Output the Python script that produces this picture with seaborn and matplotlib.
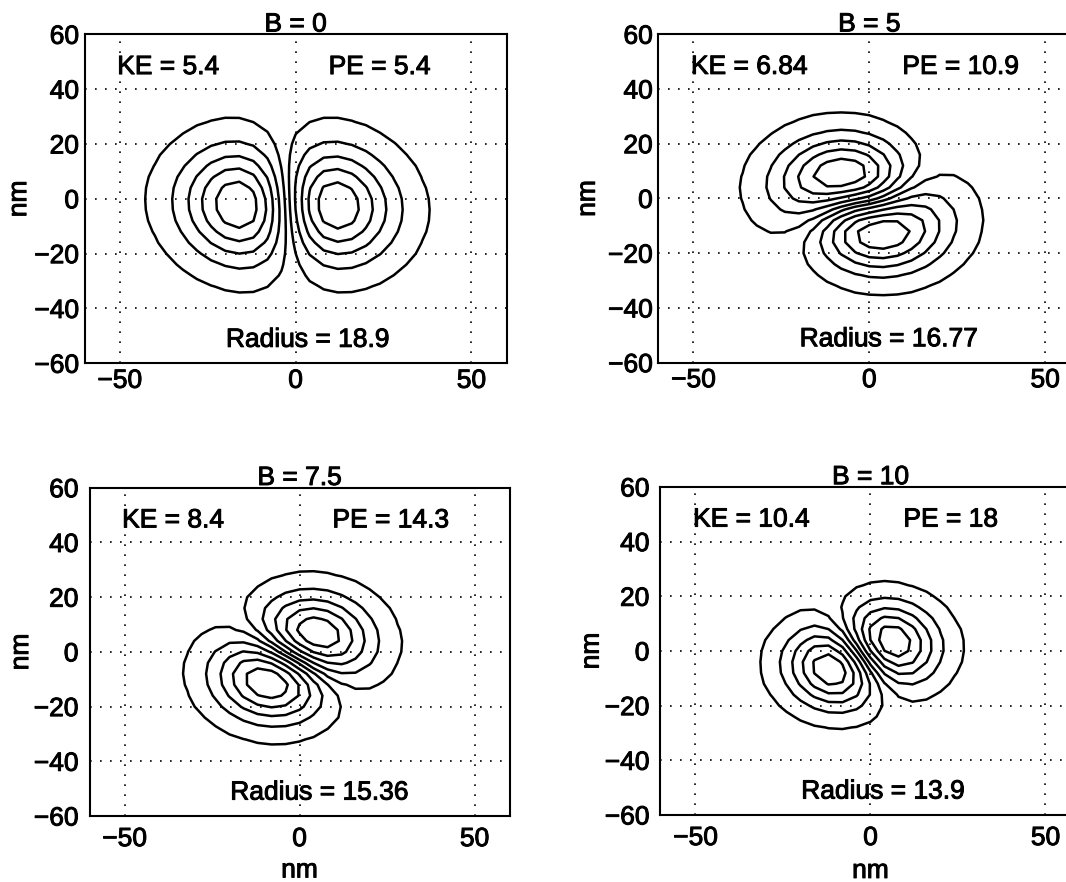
import numpy as np
import matplotlib
matplotlib.use("Agg")
import matplotlib.pyplot as plt
import matplotlib.patheffects as pe
import seaborn as sns

sns.set_theme(style="white")
plt.rcParams['font.family'] = ['Liberation Sans', 'DejaVu Sans']
for key in ('text.color', 'axes.labelcolor', 'xtick.color', 'ytick.color', 'axes.edgecolor'):
    plt.rcParams[key] = 'black'

# ---- chart data ----
titles = ["B = 0", "B = 5", "B = 7.5", "B = 10"]
ke_vals = ["5.4", "6.84", "8.4", "10.4"]
pe_vals = ["5.4", "10.9", "14.3", "18"]
radius_vals = ["18.9", "16.77", "15.36", "13.9"]
x_ticks = [-50, 0, 50]
y_ticks = [-60, -40, -20, 0, 20, 40, 60]
contour_fracs = [0.08, 0.26, 0.45, 0.64, 0.83]

# p-like wavefunction parameters per panel (estimated from the contours)
centers_x = [-2.33, -2.16, -1.99, -2.45]
centers_y = [-2.27, -1.95, -2.16, -1.59]
node_angle = [92.3, 10.4, -35.6, -60.8]   # deg, nodal line at the centre
twist = [0.029, 1.063, -0.255, -0.138]    # deg per nm
width_a = [13.68, 12.69, 11.10, 10.48]
width_b = [14.49, 11.84, 11.63, 10.02]
env_angle = [43.8, -32.8, 138.3, 49.9]


def wavefunction(X, Y, k):
    x = X - centers_x[k]
    y = Y - centers_y[k]
    r = np.hypot(x, y)
    th = np.arctan2(y, x)
    thn = np.deg2rad(node_angle[k] + twist[k] * r)
    al = np.deg2rad(env_angle[k])
    pu = x * np.cos(al) + y * np.sin(al)
    pv = -x * np.sin(al) + y * np.cos(al)
    return r * np.sin(th - thn) * np.exp(-0.5 * (pu ** 2 / width_a[k] ** 2 + pv ** 2 / width_b[k] ** 2))


fig = plt.figure(figsize=(10.66, 8.82), dpi=100)
rects = [[0.0793, 0.5881, 0.3959, 0.3730], [0.6175, 0.5888, 0.3959, 0.3724],
         [0.0840, 0.0748, 0.3940, 0.3722], [0.6196, 0.0760, 0.3940, 0.3719]]
ylab_x = [-0.155, -0.167, -0.163, -0.164]
xlab_y = [None, None, -0.187, -0.192]

gc = np.arange(-60, 60.01, 4.0)
XC, YC = np.meshgrid(gc, gc)
gf = np.arange(-45, 45.01, 0.25)
XF, YF = np.meshgrid(gf, gf)
stroke = [pe.withStroke(linewidth=0.7, foreground='black')]
FS = 19

for k in range(4):
    ax = fig.add_axes(rects[k])
    fmax = np.abs(wavefunction(XF, YF, k)).max()
    F = wavefunction(XC, YC, k) / fmax
    lev = sorted([-c for c in contour_fracs] + contour_fracs)
    ax.contour(XC, YC, F, levels=lev, colors='black', linewidths=1.8,
               negative_linestyles='solid')
    ax.set_xlim(-60, 60)
    ax.set_ylim(-60, 60)
    ax.set_xticks(x_ticks)
    ax.set_yticks(y_ticks)
    ax.grid(True, color='black', linestyle=(0, (1, 5)), linewidth=1.2)
    t = ax.set_title(titles[k], fontsize=FS, pad=2)
    t.set_path_effects(stroke)
    texts = [ax.text(-50.7, 45.5, "KE = " + ke_vals[k], fontsize=FS),
             ax.text(9.4, 45.5, "PE = " + pe_vals[k], fontsize=FS),
             ax.text(-19.8, -54, "Radius = " + radius_vals[k], fontsize=FS)]
    for tx in texts:
        tx.set_path_effects(stroke)
    ax.tick_params(labelsize=FS, length=0, pad=(4 if k < 2 else 8))
    ax.set_ylabel('nm', fontsize=FS)
    ax.yaxis.set_label_coords(ylab_x[k], 0.5)
    ax.yaxis.label.set_va('center')
    ax.yaxis.label.set_path_effects(stroke)
    if k >= 2:
        ax.set_xlabel('nm', fontsize=FS)
        ax.xaxis.set_label_coords(0.5, xlab_y[k])
        ax.xaxis.label.set_va('baseline')
        ax.xaxis.label.set_path_effects(stroke)
    for lab in ax.get_xticklabels() + ax.get_yticklabels():
        lab.set_path_effects(stroke)
    for s in ax.spines.values():
        s.set_color('black')
        s.set_linewidth(1.5)

fig.savefig('out.png', dpi=100)
